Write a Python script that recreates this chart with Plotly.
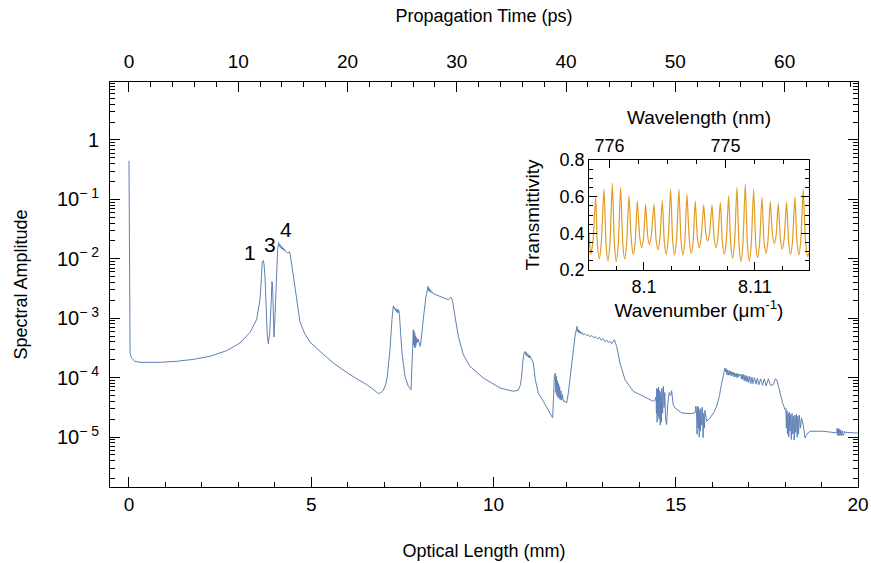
import numpy as np
import plotly.graph_objects as go

# ---------------- main curve ----------------
optical_length_mm = [
    0.0, 0.004, 0.008, 0.015, 0.03, 0.07, 0.16, 0.30, 0.85, 1.31, 1.765, 2.22, 2.68, 3.045, 3.32, 3.50,
    3.594, 3.64, 3.658, 3.685, 3.704, 3.731, 3.759, 3.795, 3.823, 3.86, 3.896, 3.923, 3.941, 3.96,
    3.978, 4.005, 4.042, 4.078, 4.106,
    4.125, 4.14, 4.155, 4.17, 4.185, 4.2, 4.215, 4.233, 4.25, 4.27, 4.297, 4.33, 4.352, 4.375, 4.398,
    4.426, 4.471, 4.526, 4.599, 4.69, 4.828, 4.965, 5.24, 5.605, 6.063, 6.521, 6.75, 6.84, 6.92, 6.977,
    7.04, 7.087, 7.125, 7.16, 7.215, 7.252, 7.27, 7.29, 7.31, 7.325, 7.345, 7.36, 7.38, 7.398, 7.42,
    7.435, 7.49, 7.572, 7.663, 7.737, 7.76, 7.774, 7.79, 7.801,
    7.81, 7.82, 7.83, 7.84, 7.85, 7.86, 7.87, 7.88, 7.895, 7.91, 7.925, 7.938, 7.96, 7.984, 8.01, 8.03,
    8.06, 8.093, 8.148, 8.203,
    8.215, 8.227, 8.24, 8.252, 8.265, 8.28, 8.3, 8.325, 8.349, 8.44, 8.532, 8.65, 8.761, 8.79, 8.825,
    8.85, 8.88, 8.944, 9.036, 9.172, 9.355, 9.721, 10.178, 10.544, 10.68, 10.74, 10.773, 10.80, 10.837,
    10.873, 10.89, 10.905, 10.92, 10.94, 10.96, 10.98, 11.0, 11.01, 11.05, 11.092, 11.147, 11.229,
    11.367, 11.504, 11.59, 11.623, 11.65, 11.669, 11.697,
    11.71, 11.725, 11.74, 11.755, 11.77, 11.785, 11.80, 11.815, 11.83, 11.85, 11.87, 11.89, 11.92,
    11.962, 12.007, 12.053, 12.145, 12.236, 12.291,
    12.30, 12.315, 12.33, 12.345, 12.36, 12.38, 12.40, 12.43, 12.46, 12.50, 12.557, 12.60, 12.65, 12.70,
    12.75, 12.80, 12.85, 12.90, 12.95, 13.00, 13.05, 13.105, 13.15, 13.2, 13.242, 13.28, 13.315,
    13.379, 13.47, 13.608, 13.836, 14.203, 14.386, 14.43, 14.459,
    14.47, 14.48, 14.49, 14.50, 14.515, 14.53, 14.545, 14.56, 14.575, 14.59, 14.605, 14.62, 14.64,
    14.659, 14.68, 14.70, 14.72, 14.75, 14.78, 14.82, 14.86, 14.887, 14.93, 14.979, 15.162, 15.39,
    15.53, 15.55,
    15.57, 15.585, 15.60, 15.615, 15.63, 15.645, 15.66, 15.675, 15.69, 15.71, 15.73, 15.75, 15.77,
    15.79, 15.80, 15.82, 15.849, 15.94, 16.05, 16.123, 16.2, 16.26, 16.32, 16.351,
    16.37, 16.385, 16.40, 16.42, 16.44, 16.46, 16.48, 16.50, 16.52, 16.54, 16.56, 16.58, 16.60, 16.62,
    16.64, 16.66, 16.68, 16.70, 16.72, 16.74, 16.763, 16.78, 16.80, 16.82, 16.84, 16.86, 16.88, 16.90,
    16.92, 16.94, 16.96, 16.98, 17.00, 17.03, 17.06, 17.09, 17.12, 17.16, 17.20, 17.24, 17.28, 17.33,
    17.38, 17.43, 17.48, 17.54, 17.60, 17.677, 17.73, 17.77, 17.82, 17.86, 17.93, 17.997,
    18.02, 18.035, 18.05, 18.065, 18.08, 18.10, 18.115, 18.13, 18.15, 18.17, 18.19, 18.21, 18.23,
    18.25, 18.27, 18.29, 18.31, 18.33, 18.35, 18.37, 18.39, 18.42, 18.45, 18.50, 18.546, 18.6,
    18.683, 19.049, 19.3, 19.415,
    19.43, 19.445, 19.46, 19.475, 19.49, 19.51, 19.53, 19.55, 19.57, 19.6, 19.63, 19.66, 19.7, 19.8,
    19.9, 20.0,
]
log10_amplitude = [
    -0.35, -1.5, -3.0, -3.45, -3.59, -3.67, -3.725, -3.742, -3.742, -3.725, -3.692, -3.641, -3.546, -3.417, -3.238, -3.025,
    -2.689, -2.241, -2.045, -2.028, -2.084, -2.297, -2.745, -3.305, -3.429, -3.25, -2.80, -2.381, -2.465, -2.913,
    -3.317, -2.969, -2.353, -1.849, -1.725,
    -1.79, -1.76, -1.81, -1.78, -1.83, -1.80, -1.84, -1.82, -1.86, -1.84, -1.877, -1.89, -1.905, -1.89, -1.882,
    -1.933, -2.129, -2.409, -2.745, -3.06, -3.27, -3.40, -3.558, -3.753, -3.95, -4.118, -4.22, -4.269, -4.25, -4.213,
    -4.12, -3.978, -3.75, -3.529, -3.025, -2.79, -2.84, -2.82, -2.87, -2.84, -2.90, -2.85, -2.91, -2.857, -2.95,
    -3.109, -3.585, -3.978, -4.146, -4.202, -3.9, -3.642, -3.3, -3.193,
    -3.45, -3.22, -3.48, -3.25, -3.50, -3.30, -3.46, -3.32, -3.42, -3.35, -3.40, -3.35, -3.45, -3.474, -3.40, -3.306,
    -3.10, -2.913, -2.633, -2.465,
    -2.53, -2.49, -2.55, -2.51, -2.56, -2.53, -2.57, -2.56, -2.588, -2.61, -2.633, -2.66, -2.689, -2.67, -2.644,
    -2.66, -2.717, -2.97, -3.306, -3.613, -3.81, -4.006, -4.173, -4.23, -4.21, -4.12, -3.978, -3.75, -3.585,
    -3.557, -3.62, -3.58, -3.64, -3.60, -3.66, -3.62, -3.67, -3.641, -3.70, -3.753, -4.034, -4.258,
    -4.398, -4.538, -4.62, -4.678, -4.3, -3.978, -3.922,
    -4.25, -3.98, -4.30, -4.05, -4.33, -4.10, -4.35, -4.15, -4.37, -4.22, -4.38, -4.28, -4.40,
    -4.398, -4.426, -4.258, -3.753, -3.305, -3.137,
    -3.22, -3.18, -3.24, -3.20, -3.25, -3.22, -3.26, -3.24, -3.28, -3.26, -3.29, -3.28, -3.31, -3.29,
    -3.33, -3.31, -3.35, -3.32, -3.37, -3.34, -3.39, -3.37, -3.41, -3.39, -3.43, -3.38, -3.361,
    -3.473, -3.753, -4.034, -4.23, -4.342, -4.398, -4.38, -4.324,
    -4.6, -4.18, -4.75, -4.2, -4.65, -4.16, -4.70, -4.22, -4.80, -4.25, -4.75, -4.18, -4.6,
    -4.146, -4.5, -4.25, -4.7, -4.79, -4.45, -4.25, -4.30, -4.22, -4.45, -4.51, -4.594, -4.605,
    -4.594, -4.48,
    -4.55, -4.95, -4.48, -4.85, -4.5, -5.0, -4.55, -4.9, -4.52, -4.8, -4.5, -5.01, -4.6,
    -4.85, -4.55, -4.65, -4.734, -4.678, -4.58, -4.482, -4.3, -4.089, -3.9, -3.837,
    -3.90, -3.85, -3.95, -3.87, -3.96, -3.88, -3.95, -3.89, -3.97, -3.90, -3.96, -3.91, -3.99, -3.92,
    -3.98, -3.93, -4.00, -3.93, -3.99, -3.94, -3.966, -3.95, -4.02, -3.94, -4.03, -3.95, -4.05, -3.96,
    -4.06, -3.97, -4.07, -3.98, -4.08, -3.98, -4.10, -3.99, -4.10, -4.00, -4.11, -4.01, -4.12, -4.02,
    -4.13, -4.02, -4.14, -4.02, -4.13, -4.118, -4.02, -4.034, -4.15, -4.258, -4.42, -4.538,
    -4.52, -4.85, -4.55, -4.95, -4.6, -5.0, -4.58, -4.9, -4.62, -5.04, -4.6, -4.95, -4.65,
    -5.05, -4.63, -4.92, -4.62, -5.0, -4.65, -4.95, -4.63, -4.85, -4.68, -4.8, -5.014, -4.95,
    -4.902, -4.902, -4.92, -4.93,
    -4.85, -4.97, -4.86, -4.98, -4.87, -4.97, -4.88, -4.98, -4.9, -4.97, -4.9, -4.93, -4.92, -4.93,
    -4.93, -4.93,
]
amplitude = 10 ** np.array(log10_amplitude)

peak_labels = ["1", "3", "4"]
peak_label_x = [3.32, 3.87, 4.31]
peak_label_log10y = [-1.90, -1.765, -1.51]

# ---------------- inset (valleys, shoulders, peaks) ----------------
wavenumber_um = [
    8.09505, 8.09520, 8.09540, 8.09565,
    8.09581, 8.09598, 8.09615, 8.09640,
    8.09659, 8.09676, 8.09693, 8.09715,
    8.09734, 8.09751, 8.09768, 8.09790,
    8.09809, 8.09826, 8.09843, 8.09865,
    8.09887, 8.09904, 8.09921, 8.09940,
    8.09962, 8.09979, 8.09996, 8.10015,
    8.10033, 8.10048, 8.10066, 8.10090,
    8.10109, 8.10126, 8.10143, 8.10165,
    8.10184, 8.10201, 8.10218, 8.10240,
    8.10259, 8.10276, 8.10293, 8.10315,
    8.10334, 8.10351, 8.10368, 8.10387,
    8.10409, 8.10426, 8.10443, 8.10462,
    8.10481, 8.10498, 8.10515, 8.10538,
    8.10557, 8.10574, 8.10591, 8.10613,
    8.10632, 8.10649, 8.10666, 8.10688,
    8.10707, 8.10724, 8.10741, 8.10763,
    8.10782, 8.10799, 8.10816, 8.10838,
    8.10857, 8.10874, 8.10891, 8.10913,
    8.10932, 8.10949, 8.10966, 8.10988,
    8.11007, 8.11024, 8.11041, 8.11063,
    8.11082, 8.11099, 8.11116, 8.11138,
    8.11157, 8.11174, 8.11191, 8.11210,
    8.11229, 8.11246, 8.11263, 8.11285,
    8.11304, 8.11321, 8.11338, 8.11360,
    8.11379, 8.11396, 8.11413, 8.11435,
    8.11455, 8.11474, 8.11487,
]
transmittivity = [
    0.40, 0.285, 0.353, 0.596,
    0.334, 0.26, 0.344, 0.642,
    0.335, 0.249, 0.342, 0.673,
    0.339, 0.245, 0.334, 0.651,
    0.346, 0.26, 0.336, 0.605,
    0.355, 0.285, 0.349, 0.576,
    0.378, 0.322, 0.374, 0.558,
    0.388, 0.34, 0.388, 0.558,
    0.365, 0.31, 0.369, 0.578,
    0.349, 0.285, 0.363, 0.64,
    0.361, 0.282, 0.361, 0.64,
    0.361, 0.282, 0.355, 0.613,
    0.361, 0.29, 0.353, 0.576,
    0.378, 0.322, 0.373, 0.555,
    0.401, 0.358, 0.401, 0.555,
    0.373, 0.322, 0.376, 0.569,
    0.347, 0.285, 0.355, 0.605,
    0.339, 0.264, 0.349, 0.651,
    0.334, 0.245, 0.338, 0.667,
    0.341, 0.249, 0.335, 0.64,
    0.349, 0.267, 0.339, 0.595,
    0.357, 0.29, 0.352, 0.573,
    0.395, 0.345, 0.393, 0.564,
    0.369, 0.314, 0.37, 0.569,
    0.347, 0.285, 0.354, 0.60,
    0.352, 0.282, 0.361, 0.64,
    0.36, 0.275, 0.29,
]

main_y_tickvals = [1, 1e-1, 1e-2, 1e-3, 1e-4, 1e-5]
main_y_ticktext = ["1", "10<sup>− 1</sup>", "10<sup>− 2</sup>", "10<sup>− 3</sup>",
                   "10<sup>− 4</sup>", "10<sup>− 5</sup>"]
wavenumber_ticks = [8.10, 8.11]
wavenumber_ticktext = ["8.1", "8.11"]
wavenumber_minor_ticks = [8.0975, 8.1025, 8.105, 8.1075, 8.1125, 8.115]
wavelength_ticks_nm = [776, 775]

C_MM_PER_PS = 0.299792458
X_RANGE = [-0.521, 20.0]
K_RANGE = [8.09505, 8.11487]

FONT = "Liberation Sans, Arial, sans-serif"
BLUE = "#5E81B5"
ORANGE = "#E19C24"

minor_log_vals = [m * 10.0 ** e for e in range(-6, 1) for m in range(2, 10)]

fig = go.Figure()
fig.add_trace(go.Scatter(x=optical_length_mm, y=amplitude, mode="lines",
                         line=dict(color=BLUE, width=1), xaxis="x", yaxis="y",
                         hoverinfo="skip", showlegend=False))
fig.add_trace(go.Scatter(x=np.array(optical_length_mm) / C_MM_PER_PS, y=amplitude, mode="lines",
                         line=dict(color=BLUE, width=1), opacity=0, xaxis="x2", yaxis="y",
                         hoverinfo="skip", showlegend=False))
fig.add_trace(go.Scatter(x=wavenumber_um, y=transmittivity, mode="lines",
                         line=dict(color=ORANGE, width=1.2, shape="spline", smoothing=0.6),
                         xaxis="x3", yaxis="y3", hoverinfo="skip", showlegend=False))
fig.add_trace(go.Scatter(x=2 * np.pi / np.array(wavenumber_um) * 1000, y=transmittivity, mode="lines",
                         opacity=0, xaxis="x4", yaxis="y3", hoverinfo="skip", showlegend=False))

MAIN_TICK = dict(family=FONT, size=19, color="black")
INSET_TICK = dict(family=FONT, size=18, color="black")


def ax(**kw):
    base = dict(showline=True, linecolor="black", linewidth=1, ticks="inside",
                tickcolor="black", showgrid=False, zeroline=False, automargin=False)
    base.update(kw)
    return base


fig.update_layout(
    width=871, height=563,
    margin=dict(l=110, r=13, t=82, b=76),
    paper_bgcolor="white", plot_bgcolor="white",
    font=dict(family=FONT, size=18, color="black"),
    xaxis=ax(range=X_RANGE, dtick=5, tick0=0, ticklen=10, tickfont=MAIN_TICK,
             minor=dict(ticks="inside", dtick=1, tick0=0, ticklen=5, tickcolor="black", showgrid=False),
             title=dict(text="Optical Length (mm)", font=dict(family=FONT, size=18), standoff=30),
             domain=[0, 1], anchor="y"),
    xaxis2=ax(range=[X_RANGE[0] / C_MM_PER_PS, X_RANGE[1] / C_MM_PER_PS], tickfont=MAIN_TICK,
              dtick=10, tick0=0, ticklen=10, overlaying="x", side="top", anchor="y",
              ticklabelstandoff=5,
              minor=dict(ticks="inside", dtick=2, tick0=0, ticklen=5, tickcolor="black", showgrid=False),
              title=dict(text="Propagation Time (ps)", font=dict(family=FONT, size=18), standoff=24)),
    yaxis=ax(type="log", range=[-5.84, 0.975], mirror="ticks", tickfont=dict(family=FONT, size=20, color="black"),
             tickmode="array", tickvals=main_y_tickvals, ticktext=main_y_ticktext, ticklen=10,
             ticklabelstandoff=6,
             minor=dict(ticks="inside", tickmode="array", tickvals=minor_log_vals, ticklen=5,
                        tickcolor="black", showgrid=False),
             title=dict(text="Spectral Amplitude", font=dict(family=FONT, size=18), standoff=24),
             domain=[0, 1], anchor="x"),
    xaxis3=ax(range=K_RANGE, tickmode="array", tickvals=wavenumber_ticks, ticktext=wavenumber_ticktext,
              ticklen=8, tickfont=INSET_TICK,
              minor=dict(ticks="inside", tickmode="array", tickvals=wavenumber_minor_ticks,
                         ticklen=4, tickcolor="black"),
              title=dict(text="Wavenumber (μm<sup>-1</sup>)", font=dict(family=FONT, size=19), standoff=6),
              domain=[0.6404, 0.9345], anchor="y3"),
    xaxis4=ax(range=[2 * np.pi / K_RANGE[0] * 1000, 2 * np.pi / K_RANGE[1] * 1000],
              tickmode="array", tickvals=wavelength_ticks_nm, ticklen=8, tickfont=INSET_TICK,
              minor=dict(ticks="inside", dtick=0.25, tick0=775, ticklen=4, tickcolor="black"),
              title=dict(text="Wavelength (nm)", font=dict(family=FONT, size=19), standoff=6),
              overlaying="x3", side="top", anchor="y3"),
    yaxis3=ax(range=[0.2, 0.8], dtick=0.2, tick0=0.2, ticklen=8, mirror="ticks", tickformat=".1f",
              tickfont=INSET_TICK,
              minor=dict(ticks="inside", dtick=0.05, tick0=0.2, ticklen=4, tickcolor="black"),
              title=dict(text="Transmittivity", font=dict(family=FONT, size=19), standoff=14),
              domain=[0.5358, 0.8074], anchor="x3"),
)

for txt, xv, yv in zip(peak_labels, peak_label_x, peak_label_log10y):
    fig.add_annotation(x=xv, y=yv, xref="x", yref="y", text=txt, showarrow=False,
                       font=dict(family=FONT, size=21, color="black"))

# remove the default 8px page margin so the figure fills the window exactly
fig.write_html("out.html",
               config={"displayModeBar": False},
               post_script="document.body.style.margin='0px';document.body.style.overflow='hidden';")
